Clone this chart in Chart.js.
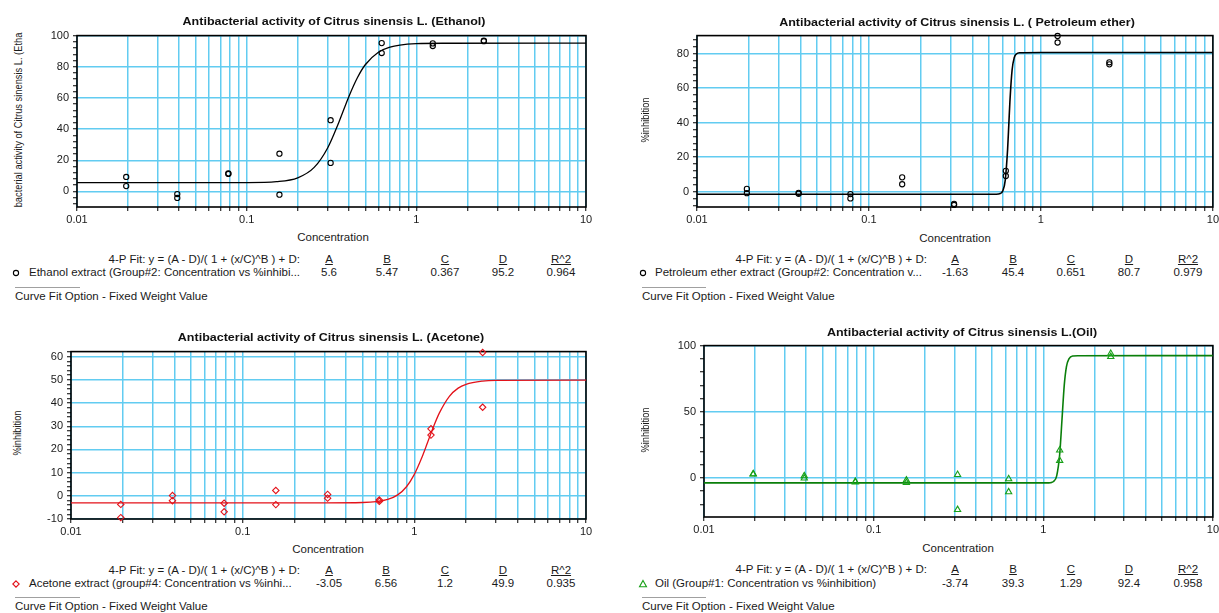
<!DOCTYPE html>
<html>
<head>
<meta charset="utf-8">
<script src="https://cdn.jsdelivr.net/npm/chart.js@4.4.0/dist/chart.umd.min.js"></script>
<style>
html,body{margin:0;padding:0;background:#fff;}
body{width:1219px;height:613px;overflow:hidden;position:relative;font-family:"Liberation Sans",Arial,sans-serif;}
canvas{position:absolute;}
.t{position:absolute;white-space:nowrap;font-size:10px;line-height:12px;color:#1a1a1a;}
.c{transform-origin:50% 50%;transform:translate(-50%,-50%) scaleX(1.15);}
.l{transform-origin:0 50%;transform:translateY(-50%) scaleX(1.15);}
.r{transform-origin:100% 50%;transform:translate(-100%,-50%) scaleX(1.15);}
.title{font-weight:bold;transform-origin:50% 50%;transform:translate(-50%,-50%) scaleX(1.25);color:#111;}
.ylab{font-size:9.3px;transform-origin:50% 50%;transform:translate(-50%,-50%) rotate(-90deg) scaleY(1.2);}
.u{text-decoration:underline;}
.sep{position:absolute;height:1px;background:#a0a0a0;}
.mk{position:absolute;}
</style>
</head>
<body>
<script>
// ---------------- DATA ----------------
const concentration = [0.0195, 0.0195, 0.039, 0.039, 0.078, 0.078, 0.156, 0.156, 0.3125, 0.3125, 0.625, 0.625, 1.25, 1.25, 2.5, 2.5];

const ethanolInhibition   = [9.3, 3.4, -1.7, -4.2, 11.2, 11.6, 24.2, -2.1, 45.7, 18.3, 95.2, 88.8, 95.0, 93.3, 96.8, 96.4];
const petroleumInhibition = [1.5, -1.0, -0.8, -1.3, -1.5, -4.0, 8.2, 4.2, -7.2, -7.8, 12.0, 9.0, 90.3, 86.5, 75.0, 73.8];
const acetoneInhibition   = [-3.7, -9.4, 0.1, -2.1, -3.2, -6.9, 2.3, -3.8, 0.6, -1.0, -1.8, -2.4, 28.9, 26.2, 61.8, 38.2];
const oilInhibition       = [3.0, 2.8, 1.5, -0.2, -2.7, -3.2, -1.7, -3.5, 2.5, -24.0, -0.7, -10.6, 21.0, 13.1, 94.0, 91.6];

// fitted curves
const ethanolCurveX   = [0.01, 0.1, 0.15, 0.2, 0.25, 0.3, 0.35, 0.4, 0.45, 0.5, 0.6, 0.7, 0.8, 1.0, 1.5, 10];
const ethanolCurveY   = [5.6, 5.67, 6.27, 8.72, 15.4, 27.9, 44.6, 60.8, 73.1, 81.3, 89.5, 92.65, 93.95, 94.83, 95.1, 95.2];
const petroleumCurveX = [0.01, 0.55, 0.58, 0.6, 0.62, 0.64, 0.651, 0.66, 0.68, 0.7, 0.72, 0.75, 1, 10];
const petroleumCurveY = [-1.63, -1.59, -1.2, 0.35, 6.46, 24.35, 39.5, 51.95, 70.7, 77.76, 79.86, 80.57, 80.7, 80.7];
const acetoneCurveX   = [0.01, 0.3, 0.5, 0.6, 0.7, 0.8, 0.9, 1.0, 1.1, 1.2, 1.3, 1.4, 1.6, 1.8, 2.0, 2.5, 3, 10];
const acetoneCurveY   = [-3.05, -3.04, -2.88, -2.49, -1.55, 0.41, 3.92, 9.24, 16.07, 23.43, 30.22, 35.78, 42.93, 46.44, 48.1, 49.47, 49.77, 49.9];
const oilCurveX       = [0.01, 1.05, 1.1, 1.15, 1.2, 1.25, 1.29, 1.33, 1.37, 1.42, 1.5, 1.6, 10];
const oilCurveY       = [-3.74, -3.71, -3.56, -2.7, 1.56, 17.87, 44.33, 70.15, 84.15, 90.24, 92.15, 92.33, 92.4];

// axis ticks
const xTickValues = [0.01, 0.1, 1, 10];
const xTickLabels = ['0.01', '0.1', '1', '10'];
const ethanolYTicks   = [0, 20, 40, 60, 80, 100];
const petroleumYTicks = [0, 20, 40, 60, 80];
const acetoneYTicks   = [-10, 0, 10, 20, 30, 40, 50, 60];
const oilYTicks       = [0, 50, 100];

// texts
const titles = [
  'Antibacterial activity of Citrus sinensis L. (Ethanol)',
  'Antibacterial activity of Citrus sinensis L. ( Petroleum ether)',
  'Antibacterial activity of Citrus sinensis L. (Acetone)',
  'Antibacterial activity of Citrus sinensis L.(Oil)'
];
const yAxisTitles = ['bacterial activity of Citrus sinensis L. (Etha', '%inhibition', '%inhibition', '%inhibition'];
const xAxisTitle = 'Concentration';
const fitFormula = '4-P Fit:  y = (A - D)/( 1 + (x/C)^B ) + D:';
const fitHeaders = ['A', 'B', 'C', 'D', 'R^2'];
const ethanolFit   = ['5.6', '5.47', '0.367', '95.2', '0.964'];
const petroleumFit = ['-1.63', '45.4', '0.651', '80.7', '0.979'];
const acetoneFit   = ['-3.05', '6.56', '1.2', '49.9', '0.935'];
const oilFit       = ['-3.74', '39.3', '1.29', '92.4', '0.958'];
const seriesNames = [
  'Ethanol extract (Group#2: Concentration vs %inhibi...',
  'Petroleum ether extract (Group#2: Concentration v...',
  'Acetone extract (group#4: Concentration vs %inhi...',
  'Oil (Group#1: Concentration vs %inhibition)'
];
const curveFitOption = 'Curve Fit Option - Fixed Weight Value';

// ---------------- LAYOUT / STYLE ----------------
const GRID = '#62ccf1';
const panels = [
  {pts: ethanolInhibition, cx: ethanolCurveX, cy: ethanolCurveY, yTicks: ethanolYTicks, fit: ethanolFit,
   plot: [77, 33, 586, 207], yRange: [-10, 100], yMinor: 4, padR: 12,
   titleXY: [334, 21.7], yLab: [18, 119.5], xLab: [333, 237.7],
   fitRight: 300.3, fitY: 260, rowY: 272.7, markerX: 16, legendX: 28.7, cols: [329, 387, 445, 503, 561],
   sepY: 286.7, sepX: [15, 80], optY: 296.7, optX: 15.3,
   color: '#000', lineColor: '#000', lineW: 1.3, style: 'circle', radius: 2.6},
  {pts: petroleumInhibition, cx: petroleumCurveX, cy: petroleumCurveY, yTicks: petroleumYTicks, fit: petroleumFit,
   plot: [697, 33, 1213, 207], yRange: [-9, 90.5], yMinor: 4, padR: 8,
   titleXY: [957, 23.3], yLab: [645, 120], xLab: [955, 238.7],
   fitRight: 926.5, fitY: 260, rowY: 272.7, markerX: 643, legendX: 655.4, cols: [955, 1013, 1071, 1129, 1187.5],
   sepY: 287, sepX: [642, 705.5], optY: 296.7, optX: 642,
   color: '#000', lineColor: '#000', lineW: 1.6, style: 'circle', radius: 2.6},
  {pts: acetoneInhibition, cx: acetoneCurveX, cy: acetoneCurveY, yTicks: acetoneYTicks, fit: acetoneFit,
   plot: [71, 349, 586, 519], yRange: [-10, 62.2], yMinor: 2, padR: 12,
   titleXY: [331, 338.3], yLab: [17, 433], xLab: [328, 550],
   fitRight: 300.3, fitY: 570.7, rowY: 584, markerX: 16, legendX: 28.7, cols: [329, 386.4, 445, 502.7, 561],
   sepY: 597.3, sepX: [15, 80], optY: 607.3, optX: 15.3,
   color: '#e3121a', lineColor: '#e3121a', lineW: 1.3, style: 'rectRot', radius: 3.2},
  {pts: oilInhibition, cx: oilCurveX, cy: oilCurveY, yTicks: oilYTicks, fit: oilFit,
   plot: [704, 343, 1213, 517], yRange: [-29.5, 100], yMinor: 10, padR: 8,
   titleXY: [961.5, 332.7], yLab: [645, 430], xLab: [957.6, 548.7],
   fitRight: 926.5, fitY: 570, rowY: 584, markerX: 643, legendX: 655.4, cols: [955, 1013, 1071, 1129, 1187.5],
   sepY: 597.3, sepX: [642, 705.5], optY: 607.3, optX: 642,
   color: '#17a017', lineColor: '#0a7f0a', lineW: 1.6, style: 'triangle', radius: 3.6}
];

const Y_W = 45, X_H = 24, PAD_T = 8;

const framePlugin = {
  id: 'frame',
  beforeDatasetsDraw(chart) {
    const a = chart.chartArea, ctx = chart.ctx;
    ctx.save();
    ctx.strokeStyle = '#000';
    ctx.lineWidth = 1.6;
    ctx.strokeRect(a.left, a.top, a.right - a.left, a.bottom - a.top);
    ctx.restore();
  }
};

function addText(txt, x, y, cls) {
  const d = document.createElement('div');
  d.className = 't ' + cls;
  d.textContent = txt;
  d.style.left = x + 'px';
  d.style.top = y + 'px';
  document.body.appendChild(d);
  return d;
}

function markerSvg(p, x, y) {
  const ns = 'http://www.w3.org/2000/svg';
  const s = document.createElementNS(ns, 'svg');
  s.setAttribute('width', 10); s.setAttribute('height', 10);
  s.setAttribute('class', 'mk');
  s.style.left = (x - 5) + 'px'; s.style.top = (y - 5) + 'px';
  let el;
  if (p.style === 'circle') {
    el = document.createElementNS(ns, 'circle');
    el.setAttribute('cx', 5); el.setAttribute('cy', 5); el.setAttribute('r', 2.6);
  } else if (p.style === 'rectRot') {
    el = document.createElementNS(ns, 'polygon');
    el.setAttribute('points', '5,1.8 8.2,5 5,8.2 1.8,5');
  } else {
    el = document.createElementNS(ns, 'polygon');
    el.setAttribute('points', '5,1.5 8.5,7.8 1.5,7.8');
  }
  el.setAttribute('fill', 'none');
  el.setAttribute('stroke', p.color);
  el.setAttribute('stroke-width', 1.1);
  s.appendChild(el);
  document.body.appendChild(s);
}

panels.forEach((p, i) => {
  const [L, T, R, B] = p.plot;
  const cv = document.createElement('canvas');
  const w = (R - L) + Y_W + p.padR, h = (B - T) + PAD_T + X_H;
  cv.width = w; cv.height = h;
  cv.style.left = (L - Y_W) + 'px';
  cv.style.top = (T - PAD_T) + 'px';
  cv.style.width = w + 'px'; cv.style.height = h + 'px';
  document.body.appendChild(cv);

  const pointData = concentration.map((x, k) => ({x: x, y: p.pts[k]}));
  const curveData = p.cx.map((x, k) => ({x: x, y: p.cy[k]}));

  new Chart(cv.getContext('2d'), {
    type: 'scatter',
    data: {
      datasets: [
        {data: curveData, showLine: true, pointRadius: 0, borderColor: p.lineColor, borderWidth: p.lineW,
         cubicInterpolationMode: 'monotone', fill: false, order: 2},
        {data: pointData, showLine: false, pointStyle: p.style, pointRadius: p.radius,
         borderColor: p.color, backgroundColor: 'rgba(0,0,0,0)', pointBorderWidth: 1.1, clip: false, order: 1}
      ]
    },
    options: {
      responsive: false,
      animation: false,
      events: [],
      layout: {padding: {top: PAD_T, right: p.padR, left: 0, bottom: 0}},
      plugins: {legend: {display: false}, tooltip: {enabled: false}, title: {display: false}},
      scales: {
        x: {
          type: 'logarithmic', min: 0.01, max: 10,
          afterBuildTicks: (scale) => {
            const t = [];
            for (let e = -2; e <= 0; e++) {
              for (let m = 1; m <= 9; m++) {
                const v = +(m * Math.pow(10, e)).toPrecision(6);
                const idx = xTickValues.indexOf(v);
                t.push({value: v, lbl: idx >= 0 ? xTickLabels[idx] : ''});
              }
            }
            t.push({value: 10, lbl: xTickLabels[3]});
            scale.ticks = t;
          },
          afterFit: (scale) => { scale.height = X_H; },
          border: {display: false},
          grid: {color: GRID, lineWidth: 1.5, tickColor: '#000', tickLength: 4, tickWidth: 1},
          ticks: {autoSkip: false, maxRotation: 0, minRotation: 0, padding: 2, color: '#1a1a1a',
                  font: {family: 'Liberation Sans', size: 11},
                  callback: (v, k, ticks) => ticks[k].lbl}
        },
        y: {
          type: 'linear', min: p.yRange[0], max: p.yRange[1],
          afterBuildTicks: (scale) => {
            const t = [];
            const lo = Math.ceil(p.yRange[0] / p.yMinor) * p.yMinor;
            for (let v = lo; v <= p.yRange[1] + 1e-9; v += p.yMinor) {
              t.push({value: v, maj: p.yTicks.indexOf(v) >= 0});
            }
            p.yTicks.forEach(v => { if (!t.some(q => q.value === v)) t.push({value: v, maj: true}); });
            t.sort((a, b) => a.value - b.value);
            scale.ticks = t;
          },
          afterFit: (scale) => { scale.width = Y_W; },
          border: {display: false},
          grid: {color: (c) => (c.tick && c.tick.maj) ? GRID : 'rgba(0,0,0,0)', lineWidth: 1.5,
                 tickColor: '#000', tickLength: 4, tickWidth: 1},
          ticks: {autoSkip: false, padding: 4, color: '#1a1a1a',
                  font: {family: 'Liberation Sans', size: 11},
                  callback: (v, k, ticks) => ticks[k].maj ? String(v) : ''}
        }
      }
    },
    plugins: [framePlugin]
  });

  // texts
  addText(titles[i], p.titleXY[0], p.titleXY[1], 'title');
  addText(yAxisTitles[i], p.yLab[0], p.yLab[1], 'ylab');
  addText(xAxisTitle, p.xLab[0], p.xLab[1], 'c');
  addText(fitFormula, p.fitRight, p.fitY, 'r');
  fitHeaders.forEach((hd, k) => addText(hd, p.cols[k], p.fitY, 'c u'));
  p.fit.forEach((val, k) => addText(val, p.cols[k], p.rowY, 'c'));
  markerSvg(p, p.markerX, p.rowY);
  addText(seriesNames[i], p.legendX, p.rowY, 'l');
  const sep = document.createElement('div');
  sep.className = 'sep';
  sep.style.left = p.sepX[0] + 'px'; sep.style.top = p.sepY + 'px';
  sep.style.width = (p.sepX[1] - p.sepX[0]) + 'px';
  document.body.appendChild(sep);
  addText(curveFitOption, p.optX, p.optY, 'l');
});
</script>
</body>
</html>
